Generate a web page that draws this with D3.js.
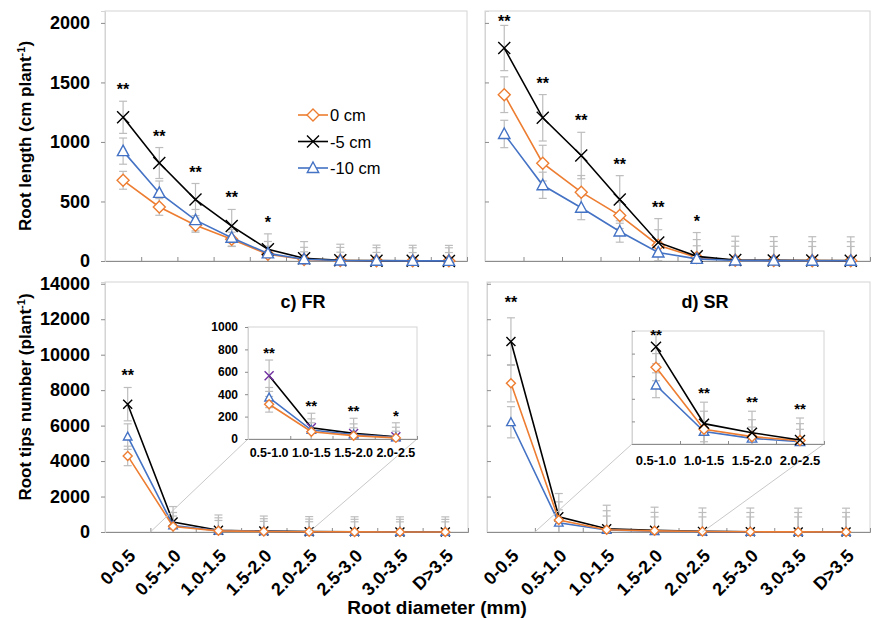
<!DOCTYPE html>
<html>
<head>
<meta charset="utf-8">
<script src="https://cdn.jsdelivr.net/npm/d3@7"></script>
<style>
  body { margin: 0; background: #fff; }
  text { font-family: "Liberation Sans", Arial, Helvetica, sans-serif; }
</style>
</head>
<body>
<svg width="872" height="620"></svg>
<script>
// categories
const topCats = ['0-0.5', '0.5-1.0', '1.0-1.5', '1.5-2.0', '2.0-2.5', '2.5-3.0', '3.0-3.5', '3.5-4.0', '4.0-4.5', 'D>4.5'];
const diamCats = ['0-0.5', '0.5-1.0', '1.0-1.5', '1.5-2.0', '2.0-2.5', '2.5-3.0', '3.0-3.5', 'D>3.5'];
const insetCats = ['0.5-1.0', '1.0-1.5', '1.5-2.0', '2.0-2.5'];
const seriesNames = ['0 cm', '-5 cm', '-10 cm'];

// a) root length, FR
const lenFR0 = [678, 454, 301, 182, 56, 12, 4, 2, 1, 1];
const lenFR5 = [1207, 823, 516, 293, 98, 23, 6, 3, 2, 1];
const lenFR10 = [923, 572, 343, 195, 64, 15, 4, 2, 1, 1];
const errLenFR0 = [75, 70, 60, 60, 70, 65, 70, 70, 70, 70];
const errLenFR5 = [135, 130, 135, 140, 130, 140, 135, 130, 130, 130];
const errLenFR10 = [110, 100, 90, 70, 100, 100, 110, 110, 110, 110];
const starsA = ['**', '**', '**', '**', '*', '', '', '', '', ''];

// b) root length, SR
const lenSR0 = [1397, 822, 578, 383, 133, 30, 6, 4, 3, 2];
const lenSR5 = [1789, 1203, 886, 517, 156, 39, 8, 5, 4, 3];
const lenSR10 = [1067, 636, 447, 248, 72, 18, 4, 3, 2, 2];
const errLenSR0 = [150, 150, 140, 110, 130, 150, 160, 160, 160, 160];
const errLenSR5 = [190, 195, 195, 200, 200, 200, 200, 200, 200, 200];
const errLenSR10 = [115, 110, 100, 90, 90, 110, 120, 120, 120, 120];
const starsB = ['**', '**', '**', '**', '**', '*', '', '', '', ''];

// c) root tips, FR
const tipsFR0 = [4290, 310, 65, 30, 10, 5, 3, 2];
const tipsFR5 = [7210, 565, 100, 50, 20, 8, 5, 3];
const tipsFR10 = [5380, 370, 80, 40, 15, 6, 4, 2];
const errTipsFR0 = [550, 590, 585, 570, 570, 570, 570, 570];
const errTipsFR5 = [940, 870, 860, 850, 850, 850, 850, 850];
const errTipsFR10 = [720, 730, 720, 710, 710, 710, 710, 710];
const starsC = ['**', '', '', '', '', '', '', ''];
const insetErrFR0 = [70, 80, 70, 60];
const insetErrFR5 = [140, 130, 135, 125];
const insetErrFR10 = [90, 100, 95, 90];
const starsInsetC = ['**', '**', '**', '*'];

// d) root tips, SR
const tipsSR0 = [8390, 680, 130, 65, 30, 10, 5, 3];
const tipsSR5 = [10740, 860, 180, 100, 35, 12, 6, 4];
const tipsSR10 = [6190, 520, 110, 50, 20, 8, 4, 2];
const errTipsSR0 = [1050, 1020, 1070, 1040, 1070, 1090, 1095, 1097];
const errTipsSR5 = [1340, 1310, 1330, 1300, 1320, 1340, 1340, 1340];
const errTipsSR10 = [880, 730, 790, 800, 830, 840, 846, 848];
const starsD = ['**', '', '', '', '', '', '', ''];
const insetErrSR0 = [120, 160, 150, 150];
const insetErrSR5 = [150, 190, 190, 195];
const insetErrSR10 = [110, 90, 100, 110];
const starsInsetD = ['**', '**', '**', '**'];

const lenTicks = [0, 500, 1000, 1500, 2000];
const tipsTicks = [0, 2000, 4000, 6000, 8000, 10000, 12000, 14000];
const insetTicks = [0, 200, 400, 600, 800, 1000];

const styles = [
    { color: '#ed7d31', shape: 'diamond' },
    { color: '#000000', shape: 'x' },
    { color: '#4472c4', shape: 'triangle' }
];
const axisColor = '#8c8c8c';
const borderColor = '#d4d4d4';
const errColor = '#bdbdbd';

const svg = d3.select('svg');

const symbolPath = (shape, s) => {
    const r = s / 2;
    if (shape === 'diamond') return `M0,${-r}L${r},0L0,${r}L${-r},0Z`;
    if (shape === 'triangle') return `M0,${-r}L${r * 0.95},${r * 0.75}L${-r * 0.95},${r * 0.75}Z`;
    return `M${-r},${-r}L${r},${r}M${-r},${r}L${r},${-r}`;
};

const drawPanel = p => {
    const g = svg.append('g');
    const n = p.cats.length;
    const x = d3.scaleBand().domain(p.cats).range([p.x0, p.x1]);
    const xb = d3.scaleLinear().domain([0, n]).range([p.x0, p.x1]);
    const y = d3.scaleLinear().domain([0, p.yMax]).range([p.y1, p.y0]);
    const cx = i => x(p.cats[i]) + x.bandwidth() / 2;

    g.append('rect')
        .attr('x', p.x0).attr('y', p.y0)
        .attr('width', p.x1 - p.x0).attr('height', p.y1 - p.y0)
        .attr('fill', '#fff').attr('stroke', borderColor);

    const clipId = 'clip-' + p.id;
    g.append('clipPath').attr('id', clipId)
        .append('rect')
        .attr('x', p.x0).attr('y', p.y0)
        .attr('width', p.x1 - p.x0).attr('height', p.y1 - p.y0);

    // x axis: ticks on category boundaries
    g.append('g')
        .attr('transform', `translate(0,${p.y1})`)
        .call(d3.axisBottom(xb).tickValues(d3.range(1, n)).tickSize(-p.tick).tickFormat(''))
        .call(a => a.select('.domain').attr('stroke', axisColor))
        .call(a => a.selectAll('.tick line').attr('stroke', axisColor));

    // y axis
    g.append('g')
        .attr('transform', `translate(${p.x0},0)`)
        .call(d3.axisLeft(y).tickValues(p.yTicks)
            .tickSize(p.yTickOut ? p.tick : -p.tick)
            .tickPadding(p.yPad)
            .tickFormat(p.showY ? d => d : ''))
        .call(a => a.select('.domain').attr('stroke', borderColor))
        .call(a => a.selectAll('.tick line').attr('stroke', axisColor))
        .call(a => a.selectAll('.tick text')
            .attr('fill', '#000')
            .style('font-size', p.yFont + 'px')
            .style('font-weight', 'bold')
            .style('font-family', '"Liberation Sans", Arial, sans-serif'));

    // error bars
    const eb = g.append('g').attr('clip-path', `url(#${clipId})`)
        .attr('stroke', errColor).attr('stroke-width', 1.2);
    p.series.forEach((vals, si) => {
        vals.forEach((v, i) => {
            const e = p.err[si][i];
            const xc = cx(i);
            eb.append('line').attr('x1', xc).attr('x2', xc).attr('y1', y(v - e)).attr('y2', y(v + e));
            [v + e, v - e].forEach(t => {
                eb.append('line')
                    .attr('x1', xc - p.cap).attr('x2', xc + p.cap)
                    .attr('y1', y(t)).attr('y2', y(t));
            });
        });
    });

    // lines and markers
    const line = d3.line().x((d, i) => cx(i)).y(d => y(d));
    p.order.forEach(si => {
        const st = styles[si];
        const vals = p.series[si];
        g.append('path').datum(vals)
            .attr('d', line)
            .attr('fill', 'none')
            .attr('stroke', st.color)
            .attr('stroke-width', p.lineW);
        const mColor = (p.markerColors && p.markerColors[si]) || st.color;
        g.append('g').selectAll('path')
            .data(vals)
            .join('path')
            .attr('transform', (d, i) => `translate(${cx(i)},${y(d)})`)
            .attr('d', symbolPath(st.shape, p.marker))
            .attr('fill', st.shape === 'x' ? 'none' : '#fff')
            .attr('stroke', mColor)
            .attr('stroke-width', 1.4);
    });

    // significance marks
    p.stars.forEach((s, i) => {
        if (!s) return;
        const top = d3.max(p.series, (vals, si) => vals[i] + p.err[si][i]);
        g.append('text')
            .attr('x', cx(i))
            .attr('y', Math.max(p.y0 + p.starMin, y(top) - p.starGap))
            .attr('text-anchor', 'middle')
            .style('font-size', p.starFont + 'px')
            .style('font-weight', 'bold')
            .text(s);
    });

    return { x, xb, y, cx, g };
};

const panelA = drawPanel({
    id: 'a', cats: topCats, x0: 105, x1: 467, y0: 11, y1: 261, yMax: 2100,
    yTicks: lenTicks, showY: true, yTickOut: true, yPad: 11, yFont: 18, tick: 4,
    series: [lenFR0, lenFR5, lenFR10], err: [errLenFR0, errLenFR5, errLenFR10],
    order: [0, 1, 2], stars: starsA, marker: 12, cap: 4, lineW: 1.6,
    starFont: 16, starGap: 6, starMin: 16
});

drawPanel({
    id: 'b', cats: topCats, x0: 485, x1: 870, y0: 11, y1: 261, yMax: 2100,
    yTicks: lenTicks, showY: false, yTickOut: false, yPad: 9, yFont: 18, tick: 4,
    series: [lenSR0, lenSR5, lenSR10], err: [errLenSR0, errLenSR5, errLenSR10],
    order: [0, 1, 2], stars: starsB, marker: 12, cap: 4, lineW: 1.6,
    starFont: 16, starGap: 6, starMin: 16
});

const panelC = drawPanel({
    id: 'c', cats: diamCats, x0: 105, x1: 468, y0: 282, y1: 532, yMax: 14100,
    yTicks: tipsTicks, showY: true, yTickOut: true, yPad: 11, yFont: 18, tick: 4,
    series: [tipsFR0, tipsFR5, tipsFR10], err: [errTipsFR0, errTipsFR5, errTipsFR10],
    order: [1, 2, 0], stars: starsC, marker: 9, cap: 4, lineW: 1.6,
    starFont: 16, starGap: 6, starMin: 16
});

const panelD = drawPanel({
    id: 'd', cats: diamCats, x0: 487, x1: 870, y0: 282, y1: 532, yMax: 14100,
    yTicks: tipsTicks, showY: false, yTickOut: false, yPad: 9, yFont: 18, tick: 4,
    series: [tipsSR0, tipsSR5, tipsSR10], err: [errTipsSR0, errTipsSR5, errTipsSR10],
    order: [1, 2, 0], stars: starsD, marker: 9, cap: 4, lineW: 1.6,
    starFont: 16, starGap: 10, starMin: 16
});

// zoom guide lines from the main panels to the insets
const guide = (panel, inset) => {
    svg.append('line')
        .attr('x1', panel.xb(1)).attr('y1', panel.y(0))
        .attr('x2', inset.x0).attr('y2', inset.y1)
        .attr('stroke', '#c8c8c8').attr('stroke-width', 1);
    svg.append('line')
        .attr('x1', panel.cx(4)).attr('y1', panel.y(0))
        .attr('x2', inset.x1).attr('y2', inset.y1)
        .attr('stroke', '#c8c8c8').attr('stroke-width', 1);
};

const insetC = {
    id: 'ic', cats: insetCats, x0: 248, x1: 417, y0: 327, y1: 439, yMax: 1000,
    yTicks: insetTicks, showY: true, yTickOut: true, yPad: 7, yFont: 12, tick: 3,
    series: [tipsFR0.slice(1, 5), tipsFR5.slice(1, 5), tipsFR10.slice(1, 5)],
    err: [insetErrFR0, insetErrFR5, insetErrFR10],
    order: [1, 2, 0], stars: starsInsetC, marker: 9, cap: 4, lineW: 1.6,
    markerColors: { 1: '#7030a0' }, starFont: 15, starGap: 2, starMin: 12
};
const insetD = {
    id: 'id', cats: insetCats, x0: 632, x1: 824, y0: 331, y1: 444, yMax: 1000,
    yTicks: insetTicks, showY: false, yTickOut: false, yPad: 4, yFont: 12, tick: 3,
    series: [tipsSR0.slice(1, 5), tipsSR5.slice(1, 5), tipsSR10.slice(1, 5)],
    err: [insetErrSR0, insetErrSR5, insetErrSR10],
    order: [2, 0, 1], stars: starsInsetD, marker: 10, cap: 4, lineW: 1.6,
    starFont: 15, starGap: 4, starMin: 9
};
guide(panelC, insetC);
guide(panelD, insetD);
const pIC = drawPanel(insetC);
const pID = drawPanel(insetD);

// inset category labels
[[pIC, insetC, 457, 12.5], [pID, insetD, 465, 13]].forEach(([pp, cfg, ty, fs]) => {
    svg.append('g').selectAll('text')
        .data(cfg.cats)
        .join('text')
        .attr('x', (d, i) => pp.cx(i))
        .attr('y', ty)
        .attr('text-anchor', 'middle')
        .style('font-size', fs + 'px')
        .style('font-weight', 'bold')
        .text(d => d);
});

// rotated category labels under the bottom panels
[panelC, panelD].forEach(pp => {
    svg.append('g').selectAll('text')
        .data(diamCats)
        .join('text')
        .attr('transform', (d, i) => `translate(${pp.cx(i) + 9},557) rotate(-45)`)
        .attr('text-anchor', 'end')
        .style('font-size', '18px')
        .style('font-weight', 'bold')
        .text(d => d);
});

// panel titles
svg.append('text').attr('x', 303).attr('y', 308).attr('text-anchor', 'middle')
    .style('font-size', '18px').style('font-weight', 'bold').text('c) FR');
svg.append('text').attr('x', 705).attr('y', 308).attr('text-anchor', 'middle')
    .style('font-size', '18px').style('font-weight', 'bold').text('d) SR');

// axis titles
const yTitle = (cy, main) => {
    const t = svg.append('text')
        .attr('transform', `translate(31,${cy}) rotate(-90)`)
        .attr('text-anchor', 'middle')
        .style('font-size', '17px')
        .style('font-weight', 'bold');
    t.append('tspan').text(main);
    t.append('tspan').attr('dy', -6).style('font-size', '11px').text('-1');
    t.append('tspan').attr('dy', 6).text(')');
};
yTitle(136, 'Root length (cm plant');
yTitle(397, 'Root tips number (plant');

svg.append('text').attr('x', 437).attr('y', 614).attr('text-anchor', 'middle')
    .style('font-size', '19px').style('font-weight', 'bold').text('Root diameter (mm)');

// legend in panel a
const legend = svg.append('g').attr('transform', 'translate(298,115)');
seriesNames.forEach((name, i) => {
    const row = legend.append('g').attr('transform', `translate(0,${i * 26.5})`);
    const st = styles[i];
    row.append('line').attr('x1', 0).attr('x2', 30).attr('y1', 0).attr('y2', 0)
        .attr('stroke', st.color).attr('stroke-width', 1.6);
    row.append('path').attr('transform', 'translate(15,0)')
        .attr('d', symbolPath(st.shape, 12))
        .attr('fill', st.shape === 'x' ? 'none' : '#fff')
        .attr('stroke', st.color).attr('stroke-width', 1.4);
    row.append('text').attr('x', 32).attr('y', 6)
        .style('font-size', '16.5px').text(name);
});
</script>
</body>
</html>
